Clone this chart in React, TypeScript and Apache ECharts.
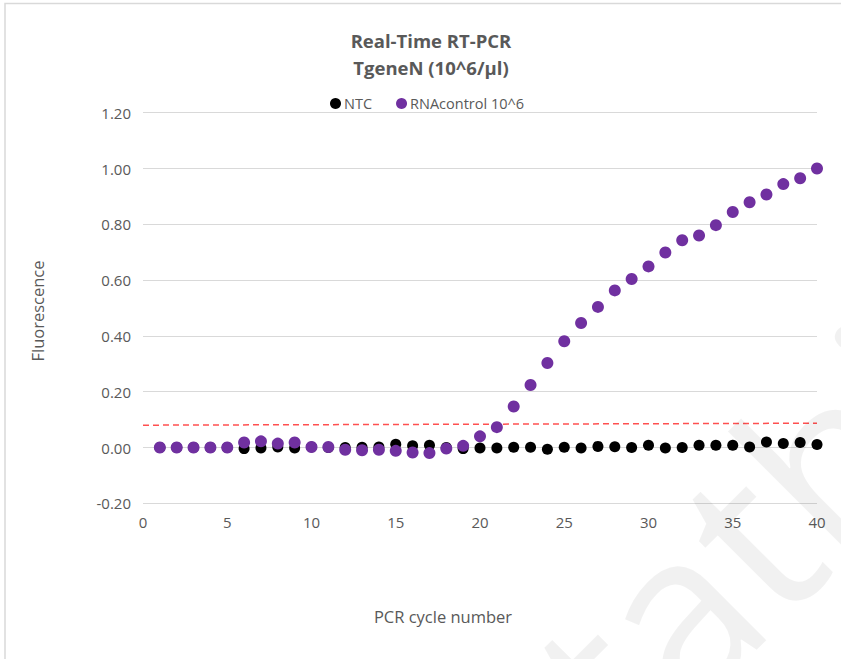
import React, { useEffect, useRef } from "react";
import * as echarts from "echarts";

const cycles = [1,2,3,4,5,6,7,8,9,10,11,12,13,14,15,16,17,18,19,20,21,22,23,24,25,26,27,28,29,30,31,32,33,34,35,36,37,38,39,40];
const ntcValues = [0,0,0,0,0,-0.004,-0.002,0.002,-0.002,0.002,0,0,0.001,0.002,0.012,0.006,0.008,0,-0.004,-0.002,-0.002,0.001,0.001,-0.006,0.001,-0.002,0.004,0.003,0,0.008,-0.002,0,0.008,0.008,0.008,0.002,0.02,0.014,0.018,0.011];
const rnaValues = [0,0,0,0,0,0.018,0.022,0.014,0.018,0.002,0.002,-0.008,-0.01,-0.008,-0.012,-0.018,-0.02,-0.004,0.006,0.04,0.073,0.147,0.224,0.303,0.381,0.446,0.504,0.563,0.604,0.649,0.699,0.743,0.76,0.797,0.844,0.879,0.907,0.944,0.965,1.0];
const thresholdX = [0, 40];
const thresholdY = [0.08, 0.087];
const yTicks = [-0.2, 0, 0.2, 0.4, 0.6, 0.8, 1.0, 1.2];
const xTicks = [0, 5, 10, 15, 20, 25, 30, 35, 40];
const titleLines = ["Real-Time RT-PCR", "TgeneN (10^6/µl)"];

const FONT = "'Open Sans', sans-serif";
const GREY = "#595959";

export default function App() {
  const ref = useRef<HTMLDivElement>(null);
  useEffect(() => {
    if (!ref.current) return;
    const chart = echarts.init(ref.current, null, { renderer: "svg" });
    chart.setOption({
      animation: false,
      backgroundColor: "#ffffff",
      legend: {
        data: ["NTC", "RNAcontrol 10^6"],
        left: 325,
        top: 91,
        icon: "circle",
        itemWidth: 11,
        itemHeight: 11,
        itemGap: 24,
        textStyle: { fontFamily: FONT, fontSize: 14.5, color: GREY, padding: [0, 0, 0, -2] },
      },
      grid: { left: 143, right: 24, top: 112.7, bottom: 155.7 },
      xAxis: {
        type: "value",
        min: xTicks[0],
        max: xTicks[xTicks.length - 1],
        interval: 5,
        axisLine: { show: false },
        axisTick: { show: false },
        splitLine: { show: false },
        axisLabel: { fontFamily: FONT, fontSize: 15, color: GREY, margin: 11 },
      },
      yAxis: {
        type: "value",
        min: yTicks[0],
        max: yTicks[yTicks.length - 1],
        interval: 0.2,
        axisLine: { show: false },
        axisTick: { show: false },
        splitLine: { lineStyle: { color: "#d9d9d9", width: 1 } },
        axisLabel: {
          fontFamily: FONT,
          fontSize: 15,
          color: GREY,
          margin: 12,
          formatter: (v: number) => v.toFixed(2),
        },
      },
      graphic: [
        {
          type: "rect",
          shape: { x: 5, y: 3.5, width: 900, height: 700 },
          style: { fill: "none", stroke: "#d9d9d9", lineWidth: 1.5 },
          silent: true,
          z: -10,
        },
        {
          type: "text",
          x: 431,
          y: 40,
          style: { text: titleLines[0], fontFamily: FONT, fontSize: 18.5, fontWeight: "bold", fill: GREY, align: "center", verticalAlign: "middle" },
        },
        {
          type: "text",
          x: 431,
          y: 67,
          style: { text: titleLines[1], fontFamily: FONT, fontSize: 18.5, fontWeight: "bold", fill: GREY, align: "center", verticalAlign: "middle" },
        },
        {
          type: "text",
          x: 443,
          y: 616,
          style: { text: "PCR cycle number", fontFamily: FONT, fontSize: 16.5, fill: GREY, align: "center", verticalAlign: "middle" },
        },
        {
          type: "text",
          x: 37,
          y: 311,
          rotation: Math.PI / 2,
          style: { text: "Fluorescence", fontFamily: FONT, fontSize: 16.5, fill: GREY, align: "center", verticalAlign: "middle" },
        },
        {
          type: "text",
          x: 568,
          y: 712,
          rotation: Math.PI / 4,
          z: 100,
          silent: true,
          style: { text: "tathi", fontFamily: FONT, fontSize: 230, fill: "rgba(0,0,0,0.055)", align: "left", verticalAlign: "middle" },
        },
      ],
      series: [
        {
          name: "NTC",
          type: "scatter",
          symbol: "circle",
          symbolSize: 11,
          itemStyle: { color: "#000000", opacity: 1 },
          data: cycles.map((c, i) => [c, ntcValues[i]]),
          z: 3,
        },
        {
          name: "RNAcontrol 10^6",
          type: "scatter",
          symbol: "circle",
          symbolSize: 12,
          itemStyle: { color: "#7030a0", opacity: 1 },
          data: cycles.map((c, i) => [c, rnaValues[i]]),
          z: 4,
        },
        {
          name: "threshold",
          type: "line",
          symbol: "none",
          lineStyle: { color: "#ff5050", width: 1.5, type: [6, 4] },
          data: thresholdX.map((x, i) => [x, thresholdY[i]]),
          z: 2,
        },
      ],
    });
    return () => chart.dispose();
  }, []);
  return <div ref={ref} style={{ position: "absolute", left: 0, top: 0, width: 841, height: 659 }} />;
}
